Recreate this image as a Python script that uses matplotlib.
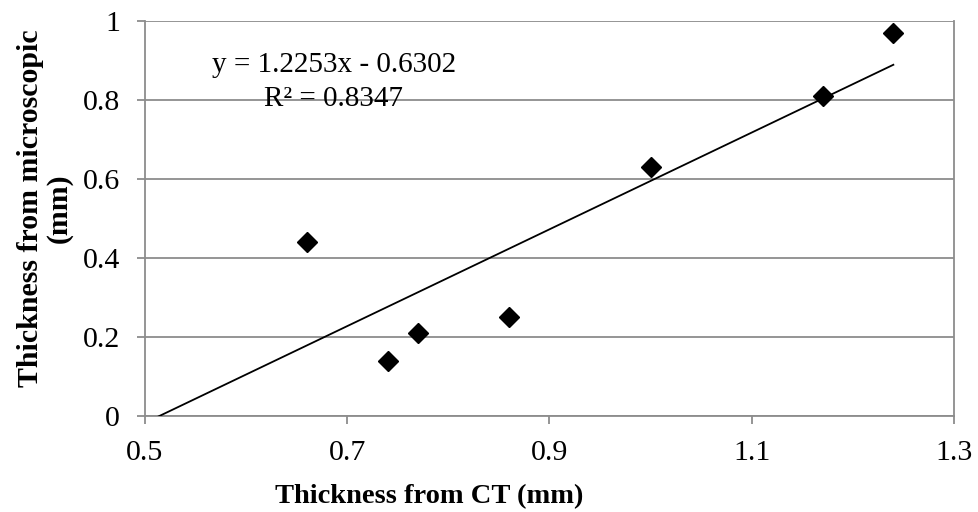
import matplotlib
matplotlib.use("Agg")
import matplotlib.pyplot as plt
import numpy as np

ct = [0.66, 0.74, 0.77, 0.86, 1.00, 1.17, 1.24]
micro = [0.44, 0.14, 0.21, 0.25, 0.63, 0.81, 0.97]
slope = 1.2253
intercept = -0.6302
r2 = 0.8347
x_ticks = [0.5, 0.7, 0.9, 1.1, 1.3]
y_ticks = [0, 0.2, 0.4, 0.6, 0.8, 1.0]
y_tick_labels = ["0", "0.2", "0.4", "0.6", "0.8", "1"]

plt.rcParams['font.family'] = ['Liberation Serif', 'DejaVu Serif']

fig = plt.figure(figsize=(9.79, 5.12), dpi=100)
ax = fig.add_axes([0.148, 0.1875, 0.8265, 0.7715])

gc = '#8c8c8c'
fs = 21.5
ax.set_xlim(0.5, 1.3)
ax.set_ylim(0, 1)
ax.set_yticks(y_ticks)
ax.set_yticklabels(y_tick_labels)
ax.set_xticks(x_ticks)
ax.set_xticklabels([f"{v:g}" for v in x_ticks])
ax.grid(axis='y', color=gc, linewidth=1.3)
ax.set_axisbelow(True)
for s in ['left', 'bottom', 'right']:
    ax.spines[s].set_color(gc)
    ax.spines[s].set_linewidth(1.3)
ax.spines['top'].set_visible(False)
ax.tick_params(axis='both', colors=gc, length=6, width=1.3, labelsize=fs, labelcolor='black', direction='out')
ax.tick_params(axis='x', pad=11)
ax.tick_params(axis='y', pad=12)

xl = np.array([0.5, max(ct)])
ax.plot(xl, slope * xl + intercept, color='black', linewidth=1.3, zorder=3)
ax.plot(ct, micro, linestyle='none', marker='D', markersize=10, color='black', zorder=4)

fig.text(429/979, 1 - 503/512, "Thickness from CT (mm)", fontsize=20.5, fontweight='bold',
         ha='center', va='baseline')
fig.text(45/979, 1 - 208/512, "Thickness from microscopic\n(mm)", fontsize=21.5, fontweight='bold',
         rotation=90, ha='center', va='center', multialignment='center', linespacing=1.1)

fig.text(334/979, 1 - 65/512, f"y = {slope}x - {abs(intercept)}", fontsize=21, ha='center', va='center')
fig.text(334/979, 1 - 99/512, f"R² = {r2}", fontsize=21, ha='center', va='center')

fig.savefig("out.png", dpi=100)
